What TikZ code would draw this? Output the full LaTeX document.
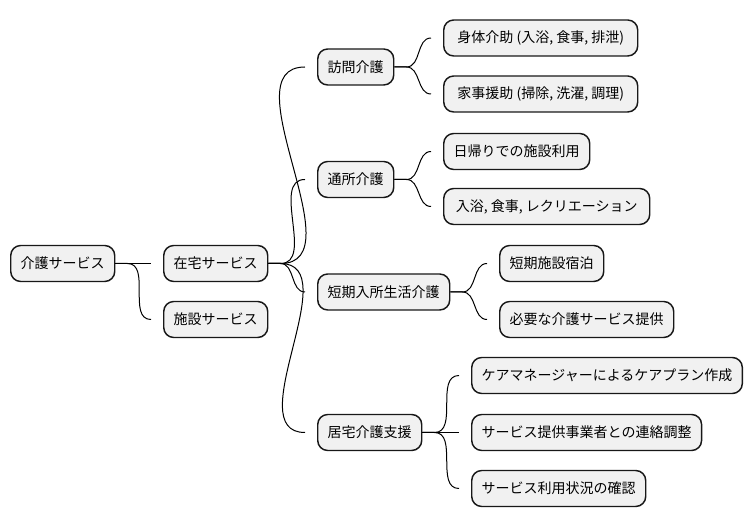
\documentclass[tikz,border=0pt]{standalone}
\usepackage{fontspec}
\setmainfont{Noto Sans CJK JP}
\definecolor{boxfill}{HTML}{F1F1F1}
\definecolor{boxline}{HTML}{181818}

\begin{document}
\begin{tikzpicture}[x=0.75pt,y=-0.75pt,
  topic/.style={rectangle,rounded corners=7.5pt,draw=boxline,fill=boxfill,line width=1.1pt,
    minimum height=27pt,inner xsep=7.5pt,anchor=west,font=\fontsize{10.5}{12}\selectfont},
  branch/.style={to path={-- ++(12,0) to[out=0,in=180] ([xshift=-9pt]\tikztotarget) -- (\tikztotarget)}},
  every path/.style={line width=0.75pt}]
\useasboundingbox (0,0) rectangle (754,527);

\path (10,263.5) node[topic] (kaigo) {介護サービス};

\path (163,263.5) node[topic] (zaitaku) {在宅サービス};
\draw (kaigo.east) to[branch] (zaitaku.west);
\path (163,319.5) node[topic] (shisetsu) {施設サービス};
\draw (kaigo.east) to[branch] (shisetsu.west);

\path (317,67) node[topic] (houmon) {訪問介護};
\draw (zaitaku.east) to[branch] (houmon.west);
\path (317,179.5) node[topic] (tsusho) {通所介護};
\draw (zaitaku.east) to[branch] (tsusho.west);
\path (317,292) node[topic] (tanki) {短期入所生活介護};
\draw (zaitaku.east) to[branch] (tanki.west);
\path (317,432.5) node[topic] (kyotaku) {居宅介護支援};
\draw (zaitaku.east) to[branch] (kyotaku.west);

\path (443,38) node[topic,minimum width=145.5pt] (shintai) {身体介助 (入浴, 食事, 排泄)};
\draw (houmon.east) to[branch] (shintai.west);
\path (443,94) node[topic,minimum width=145.5pt] (kaji) {家事援助 (掃除, 洗濯, 調理)};
\draw (houmon.east) to[branch] (kaji.west);

\path (443,151.5) node[topic] (higaeri) {日帰りでの施設利用};
\draw (tsusho.east) to[branch] (higaeri.west);
\path (443,206.5) node[topic,minimum width=154.5pt] (nyuyoku) {入浴, 食事, レクリエーション};
\draw (tsusho.east) to[branch] (nyuyoku.west);

\path (499,263.5) node[topic] (shukuhaku) {短期施設宿泊};
\draw (tanki.east) to[branch] (shukuhaku.west);
\path (499,319.5) node[topic] (hitsuyo) {必要な介護サービス提供};
\draw (tanki.east) to[branch] (hitsuyo.west);

\path (471,375.5) node[topic] (careplan) {ケアマネージャーによるケアプラン作成};
\draw (kyotaku.east) to[branch] (careplan.west);
\path (471,432.5) node[topic] (renraku) {サービス提供事業者との連絡調整};
\draw (kyotaku.east) to[branch] (renraku.west);
\path (471,488.5) node[topic] (kakunin) {サービス利用状況の確認};
\draw (kyotaku.east) to[branch] (kakunin.west);
\end{tikzpicture}
\end{document}
